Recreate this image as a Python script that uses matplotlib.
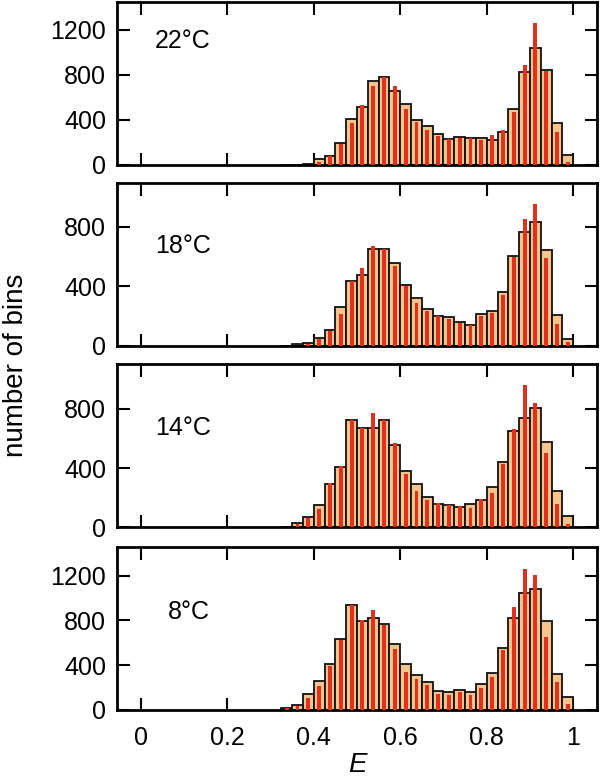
import numpy as np
import matplotlib
matplotlib.use("Agg")
import matplotlib.pyplot as plt

plt.rcParams['font.family'] = ['Liberation Sans', 'DejaVu Sans']

# bins of width 0.025, first bin starts at E = 0.325
bin_width = 0.025
e_start = 0.325

labels = ["22°C", "18°C", "14°C", "8°C"]

# tan histogram (outlined bars)
hist_22 = [0, 0, 8, 50, 80, 196, 409, 510, 747, 776, 652, 542, 400, 344, 273, 225, 246, 234, 234, 222, 287, 495, 824, 1040, 839, 373, 89]
hist_18 = [0, 9, 18, 52, 108, 258, 438, 477, 649, 649, 556, 411, 321, 246, 197, 190, 158, 140, 212, 231, 362, 603, 764, 834, 642, 203, 45]
hist_14 = [4, 32, 70, 147, 292, 407, 721, 667, 671, 721, 556, 382, 292, 206, 160, 149, 136, 160, 181, 269, 443, 649, 739, 802, 574, 246, 75]
hist_8 = [18, 47, 142, 261, 409, 631, 936, 794, 821, 764, 590, 406, 308, 246, 169, 157, 175, 160, 228, 329, 557, 818, 1043, 1081, 791, 317, 113]

# thin red bars
red_22 = [0, 0, 0, 24, 74, 187, 370, 533, 702, 782, 696, 498, 379, 305, 258, 231, 237, 240, 222, 261, 311, 468, 883, 1262, 830, 290, 24]
red_18 = [0, 0, 11, 45, 95, 215, 438, 520, 671, 649, 540, 405, 287, 230, 201, 179, 151, 136, 197, 219, 344, 599, 857, 958, 590, 147, 23]
red_14 = [0, 20, 61, 124, 298, 416, 725, 667, 773, 721, 567, 359, 242, 185, 165, 147, 145, 129, 188, 228, 427, 665, 958, 841, 502, 156, 20]
red_8 = [15, 36, 110, 216, 394, 622, 942, 806, 892, 756, 548, 335, 276, 222, 139, 133, 157, 133, 193, 296, 533, 924, 1259, 1209, 652, 251, 51]

hists = [hist_22, hist_18, hist_14, hist_8]
reds = [red_22, red_18, red_14, red_8]
ymax = [1450, 1100, 1100, 1460]
yticks = [[0, 400, 800, 1200], [0, 400, 800], [0, 400, 800], [0, 400, 800, 1200]]
label_pos = [(0.079, 0.76), (0.079, 0.61), (0.079, 0.61), (0.106, 0.60)]

fig = plt.figure(figsize=(6, 7.8), dpi=100)
bottoms = [0.789, 0.557, 0.324, 0.090]
tan = "#F8C48C"
red = "#E0301E"

for i in range(4):
    ax = fig.add_axes([0.195, bottoms[i], 0.800, 0.209])
    n = len(hists[i])
    edges = e_start + bin_width * np.arange(n)
    ax.bar(edges, hists[i], width=bin_width, align='edge', color=tan,
           edgecolor='#111111', linewidth=1.3, zorder=2)
    ax.bar(edges + bin_width / 2, reds[i], width=0.009, color=red,
           linewidth=0, zorder=3)
    ax.set_xlim(-0.055, 1.055)
    ax.set_ylim(0, ymax[i])
    ax.set_yticks(yticks[i])
    ax.set_xticks([0, 0.2, 0.4, 0.6, 0.8, 1.0])
    ax.set_xticklabels(["0", "0.2", "0.4", "0.6", "0.8", "1"])
    ax.tick_params(direction='in', length=9, width=1.5, top=True, right=True,
                   labelsize=18, pad=8)
    ax.tick_params(axis='x', pad=12)
    if i < 3:
        ax.tick_params(labelbottom=False)
    for s in ax.spines.values():
        s.set_linewidth(2)
    ax.text(label_pos[i][0], label_pos[i][1], labels[i], transform=ax.transAxes,
            fontsize=18, va='center', ha='left')
    if i == 3:
        ax.set_xlabel("E", fontsize=20, style='italic', labelpad=1)

fig.text(0.027, 0.532, "number of bins", rotation=90, fontsize=20,
         va='center', ha='center')

plt.savefig("out.png", dpi=100)
